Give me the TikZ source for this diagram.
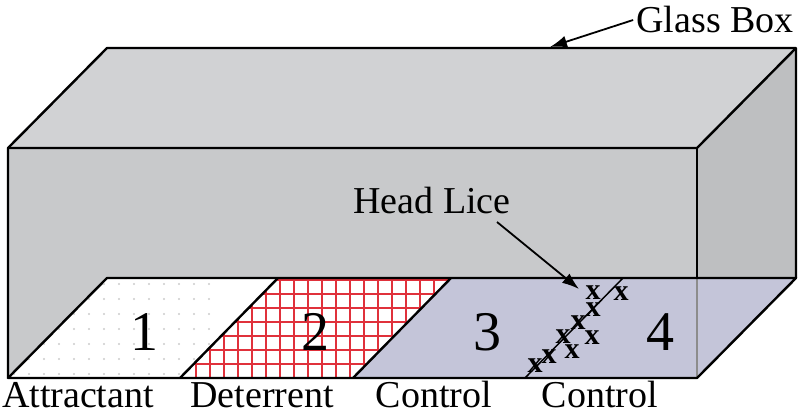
\documentclass[tikz,border=0pt]{standalone}
\usepackage{fontspec}
\setmainfont{Liberation Serif}
\usetikzlibrary{arrows.meta}
\definecolor{topgray}{HTML}{D1D2D4}
\definecolor{frontgray}{HTML}{C8C9CB}
\definecolor{sidegray}{HTML}{BEBFC1}
\definecolor{floorblue}{HTML}{C4C5D9}
\definecolor{gridred}{HTML}{E0313B}
\begin{document}
\begin{tikzpicture}[x=1pt, y=-1pt, edge/.style={line width=2.4pt, line join=round},
				label/.style={font=\fontsize{38}{40}\selectfont, inner sep=0pt, anchor=base},
				number/.style={font=\fontsize{56}{58}\selectfont, inner sep=0pt, anchor=base},
				louse/.style={font=\fontsize{30}{30}\selectfont\bfseries, inner sep=0pt},
				pointer/.style={line width=1.8pt, -{Latex[length=17pt, width=12pt]}}]
				
				\useasboundingbox (0,0) rectangle (800,414);
				
				% faces of the box
				\fill[topgray] (8,148) -- (107,48) -- (796,48) -- (697,148) -- cycle;
				\fill[frontgray] (8,148) rectangle (697,378);
				\fill[sidegray] (697,148) -- (796,48) -- (796,278) -- (697,378) -- cycle;
				
				% floor
				\fill[white] (8,378) -- (107,278) -- (451,278) -- (353,378) -- cycle;
				\begin{scope}
					\clip (8,378) -- (107,278) -- (278,278) -- (180,378) -- cycle;
					\foreach \i in {0,...,13} {
						\foreach \j in {0,...,6} {
							\fill[black!20] (14+\i*15,284+\j*15) circle (1.1pt);
						}
					}
				\end{scope}
				\begin{scope}
					\clip (180,378) -- (278,278) -- (451,278) -- (353,378) -- cycle;
					\draw[gridred, line width=1.3pt, step=14pt] (168,390) grid (462,266);
				\end{scope}
				\fill[floorblue] (353,378) -- (451,278) -- (796,278) -- (697,378) -- cycle;
				\draw[black!45, line width=1.3pt] (697,278) -- (697,378);
				
				% edges
				\draw[edge] (8,378) -- (8,148) -- (107,48) -- (796,48) -- (796,278);
				\draw[edge] (8,148) -- (697,148) -- (796,48);
				\draw[edge] (697,148) -- (697,278);
				\draw[edge] (8,378) -- (697,378) -- (796,278) -- (107,278) -- cycle;
				\draw[edge] (180,378) -- (278,278);
				\draw[edge] (353,378) -- (451,278);
				\draw[line width=1.5pt] (525,378) -- (623,278);
				
				% numbers and labels
				\node[number] (n1) at (144,350) {1};
				\node[number] (n2) at (315,350) {2};
				\node[number] (n3) at (487,350) {3};
				\node[number] (n4) at (660,350) {4};
				
				\node[label] (attr) at (78,407) {Attractant};
				\node[label] (deter) at (262,407) {Deterrent};
				\node[label] (ctrl1) at (434,407) {Control};
				\node[label] (ctrl2) at (600,407) {Control};
				
				% lice
				\node[louse] (x1) at (593,293) {x};
				\node[louse] (x2) at (621,294) {x};
				\node[louse] (x3) at (593,310) {x};
				\node[louse] (x4) at (578,323) {x};
				\node[louse] (x5) at (592,338) {x};
				\node[louse] (x6) at (563,337) {x};
				\node[louse] (x7) at (572,352) {x};
				\node[louse] (x8) at (549,357) {x};
				\node[louse] (x9) at (535,366) {x};
				
				% pointers
				\node[label] (glass) at (715,33) {Glass Box};
				\coordinate (boxtop) at (550,47);
				\draw[pointer] ([xshift=-3pt]glass.west) -- (boxtop);
				
				\node[label] (lice) at (432,213) {Head Lice};
				\coordinate (licetip) at (579,289);
				\draw[pointer] (497,222) -- (licetip);
			\end{tikzpicture}
\end{document}
